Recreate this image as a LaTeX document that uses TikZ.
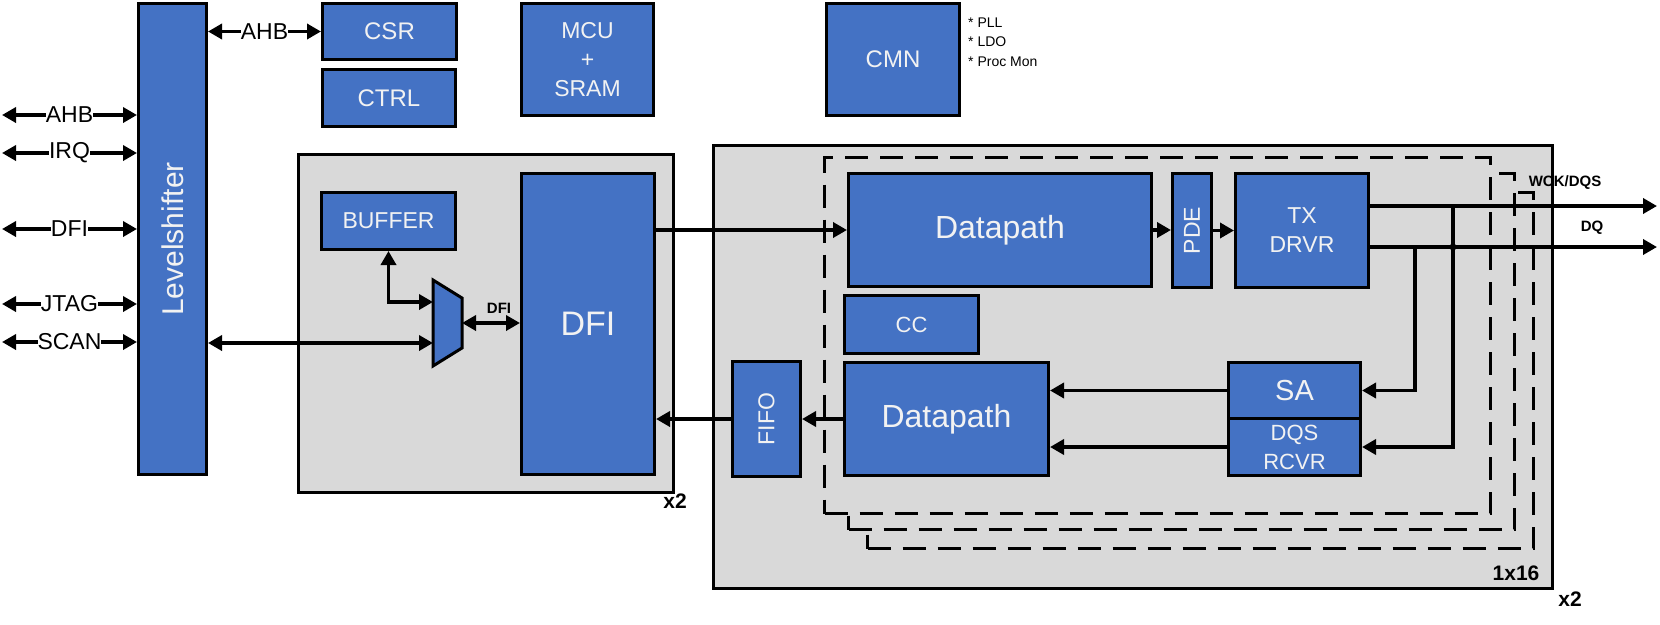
\documentclass[tikz,border=0pt]{standalone}
\usepackage{fontspec}
\setmainfont{Liberation Sans}
\usetikzlibrary{arrows.meta}
\definecolor{bblue}{HTML}{4472C4}
\definecolor{bgray}{HTML}{D9D9D9}
\definecolor{btext}{HTML}{F2F2F2}
\newcommand\fsz[2]{\fontsize{#1}{#2}\selectfont}
\tikzset{
  blkbox/.style={draw=black, line width=3pt, fill=bblue, text=btext, inner sep=0pt,
     anchor=north west, align=center},
  grybox/.style={draw=black, line width=3pt, fill=bgray, inner sep=0pt, anchor=north west},
  dshbox/.style={draw=black, line width=3pt, fill=bgray, inner sep=0pt, anchor=north west,
     dash pattern=on 23pt off 12pt},
  arr/.style={line width=3.5pt, -{Triangle[length=14pt,width=15pt]}},
  dbl/.style={line width=3.5pt, {Triangle[length=14pt,width=15pt]}-{Triangle[length=14pt,width=15pt]}},
  lbl/.style={fill=white, inner sep=0pt, font=\fsz{23}{27}},
  smallb/.style={inner sep=0pt, font=\bfseries\fsz{15}{18}},
  multb/.style={inner sep=0pt, font=\bfseries\fsz{21}{24}},
  note/.style={inner sep=0pt, anchor=west, font=\fsz{14}{17}},
}
\begin{document}
\begin{tikzpicture}[x=1pt,y=-1pt]
\useasboundingbox (0,0) rectangle (1660,624);

% gray containers
\node[grybox, minimum width=375pt, minimum height=338pt] (g1) at (297,153) {};
\node[grybox, minimum width=839pt, minimum height=443pt] (g2) at (712,144) {};

% stacked dashed lanes
\node[dshbox, minimum width=666pt, minimum height=356pt] (d3) at (866,191) {};
\node[dshbox, minimum width=666pt, minimum height=356pt] (d2) at (847,172) {};
\node[dshbox, minimum width=666pt, minimum height=356pt] (d1) at (823,156) {};

% blocks
\node[blkbox, minimum width=68pt, minimum height=471pt, font=\fsz{30}{36}] (lvl) at (137,2) {\rotatebox{90}{Levelshifter}};
\node[blkbox, minimum width=134pt, minimum height=56pt, font=\fsz{24}{29}] (csr) at (321,2) {CSR};
\node[blkbox, minimum width=133pt, minimum height=57pt, font=\fsz{24}{29}] (ctrl) at (321,68) {CTRL};
\node[blkbox, minimum width=132pt, minimum height=112pt, font=\fsz{23}{29}] (mcu) at (520,2) {MCU\\+\\SRAM};
\node[blkbox, minimum width=133pt, minimum height=112pt, font=\fsz{24}{29}] (cmn) at (825,2) {CMN};
\node[blkbox, minimum width=134pt, minimum height=57pt, font=\fsz{23}{28}] (buf) at (320,191) {BUFFER};
\node[blkbox, minimum width=133pt, minimum height=301pt, font=\fsz{34}{40}] (dfi) at (520,172) {DFI};
\node[blkbox, minimum width=303pt, minimum height=113pt, font=\fsz{32}{38}] (dp1) at (847,172) {Datapath};
\node[blkbox, minimum width=39pt, minimum height=114pt, font=\fsz{23}{28}] (pde) at (1171,172) {\rotatebox{90}{PDE}};
\node[blkbox, minimum width=133pt, minimum height=114pt, font=\fsz{23}{29}] (tx) at (1234,172) {TX\\DRVR};
\node[blkbox, minimum width=134pt, minimum height=58pt, font=\fsz{22}{26}] (cc) at (843,294) {CC};
\node[blkbox, minimum width=204pt, minimum height=113pt, font=\fsz{32}{38}] (dp2) at (843,361) {Datapath};
\node[blkbox, minimum width=132pt, minimum height=56pt, font=\fsz{29}{34}] (sa) at (1227,361) {SA};
\node[blkbox, minimum width=132pt, minimum height=57pt, font=\fsz{22}{29}] (dqs) at (1227,417) {DQS\\RCVR};
\node[blkbox, minimum width=68pt, minimum height=115pt, font=\fsz{23}{28}] (fifo) at (731,360) {\rotatebox{90}{FIFO}};

% mux
\draw[line width=3pt, fill=bblue, line join=miter] (433,280) -- (462,298) -- (462,348) -- (433,366) -- cycle;
\coordinate (muxB) at (433,302);
\coordinate (muxS) at (433,343);
\coordinate (muxR) at (462,323);

% notes
\node[note] (n1) at (968,23) {* PLL};
\node[note] (n2) at (968,42) {* LDO};
\node[note] (n3) at (968,62) {* Proc Mon};

% left side interfaces
\coordinate (lAHB) at (2,115);
\coordinate (lIRQ) at (2,153);
\coordinate (lDFI) at (2,229);
\coordinate (lJTAG) at (2,304);
\coordinate (lSCAN) at (2,342);
\draw[dbl] (lAHB) -- (lAHB -| lvl.west) node[midway, lbl] {AHB};
\draw[dbl] (lIRQ) -- (lIRQ -| lvl.west) node[midway, lbl] {IRQ};
\draw[dbl] (lDFI) -- (lDFI -| lvl.west) node[midway, lbl] {DFI};
\draw[dbl] (lJTAG) -- (lJTAG -| lvl.west) node[midway, lbl] {JTAG};
\draw[dbl] (lSCAN) -- (lSCAN -| lvl.west) node[midway, lbl] {SCAN};

% top AHB
\draw[dbl] (lvl.east |- csr.west) -- (csr.west) node[midway, lbl] {AHB};

% scan / buffer / dfi
\draw[dbl] (lvl.east |- muxS) -- (muxS);
\draw[dbl] (muxB) -| (buf.south);
\draw[dbl] (muxR) -- (muxR -| dfi.west);
\node[smallb] (dfil) at (499,308) {DFI};

% datapath flow
\draw[arr] (dfi.east |- dp1.west) -- (dp1.west);
\draw[arr] (dp1.east) -- (pde.west |- dp1.east);
\draw[arr] (pde.east) -- (tx.west |- pde.east);

% outputs
\coordinate (wck) at (1657,206);
\coordinate (dq) at (1657,247);
\draw[arr] (tx.east |- wck) -- (wck);
\draw[arr] (tx.east |- dq) -- (dq);
\node[smallb] (wckl) at (1565,183) {WCK/DQS};
\node[smallb] (dql) at (1592,228) {DQ};

% loopback
\coordinate (v1) at (1453,206);
\coordinate (v2) at (1415,247);
\draw[arr] (v1) |- (dqs.east);
\draw[arr] (v2) |- (sa.east);
\fill (1453,247) circle (3.5pt);

% receive path
\draw[arr] (sa.west) -- (sa.west -| dp2.east);
\draw[arr] (dqs.west) -- (dqs.west -| dp2.east);
\draw[arr] (dp2.west) -- (fifo.east);
\draw[arr] (fifo.west) -- (fifo.west -| dfi.east);

% multiplicity labels
\node[multb] (m1) at (675,501) {x2};
\node[multb] (m2) at (1516,573) {1x16};
\node[multb] (m3) at (1570,599) {x2};
\end{tikzpicture}
\end{document}
